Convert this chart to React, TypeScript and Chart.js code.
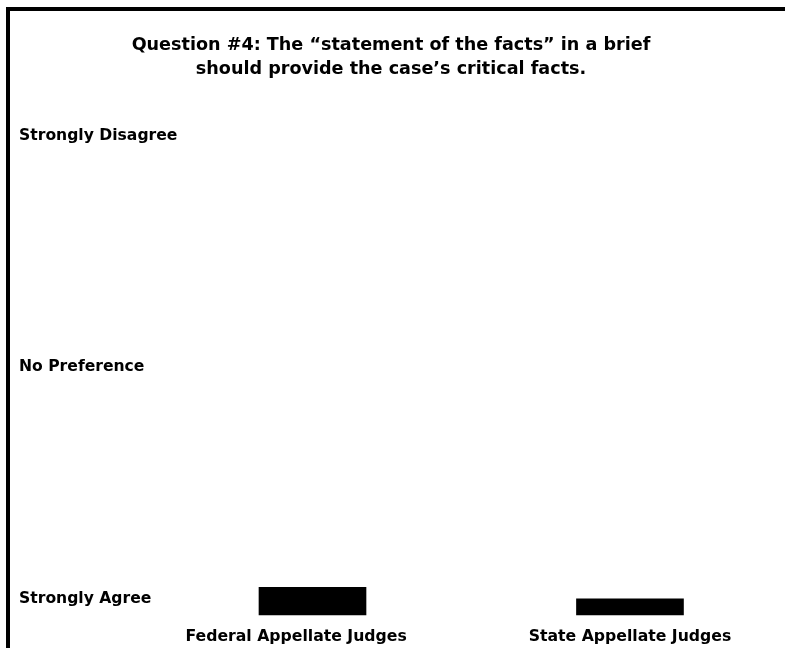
import React, { useEffect, useRef } from "react";
import { Chart, registerables } from "chart.js";

Chart.register(...registerables);

const titleLines = [
  "Question #4: The \u201cstatement of the facts\u201d in a brief",
  "should provide the case\u2019s critical facts.",
];
const categories = ["Federal Appellate Judges      ", "State Appellate Judges"];
const categoryPositions = [0, 1];
const meanResponse = [1.1, 1.0];
const yTickValues = [1, 3, 5];
const yTickLabels = ["Strongly Agree", "No Preference", "Strongly Disagree"];

const FONT = "'DejaVu Sans', Verdana, sans-serif";

export default function App() {
  const ref = useRef<HTMLCanvasElement | null>(null);

  useEffect(() => {
    const canvas = ref.current;
    if (!canvas) return;
    const chart = new Chart(canvas, {
      type: "bar",
      data: {
        datasets: [
          {
            data: categoryPositions.map((x, i) => ({ x, y: meanResponse[i] })),
            backgroundColor: "#000000",
            borderWidth: 0,
            barThickness: 107,
          },
        ],
      },
      options: {
        animation: false,
        responsive: false,
        devicePixelRatio: 1,
        layout: { padding: { left: 9, right: 23, top: 0, bottom: 0 } },
        plugins: {
          legend: { display: false },
          tooltip: { enabled: false },
          title: {
            display: true,
            text: titleLines,
            color: "#000000",
            font: { family: FONT, size: 17.6, weight: "bold", lineHeight: 24 / 17.6 },
            padding: { top: 22.5, bottom: 54.3 },
          },
        },
        scales: {
          x: {
            type: "linear",
            offset: false,
            min: -0.389,
            max: 1.419,
            grid: { display: false, drawTicks: false, offset: false },
            border: { display: false },
            afterBuildTicks: (scale: any) => {
              scale.ticks = categoryPositions.map((v) => ({ value: v }));
            },
            afterFit: (scale: any) => {
              scale.paddingLeft = 0;
              scale.paddingRight = 0;
            },
            ticks: {
              autoSkip: false,
              maxRotation: 0,
              padding: 12,
              color: "#000000",
              font: { family: FONT, size: 15.7, weight: "bold" },
              callback: (value: any) => {
                const i = categoryPositions.indexOf(Number(value));
                return i >= 0 ? categories[i] : "";
              },
            },
          },
          y: {
            type: "linear",
            min: 0.86,
            max: 5,
            grid: { display: false, drawTicks: false },
            border: { display: false },
            afterBuildTicks: (scale: any) => {
              scale.ticks = yTickValues.map((v) => ({ value: v }));
            },
            afterFit: (scale: any) => {
              scale.width = 170;
            },
            ticks: {
              autoSkip: false,
              crossAlign: "far",
              color: "#000000",
              font: { family: FONT, size: 15.6, weight: "bold" },
              callback: (value: any) => {
                const i = yTickValues.indexOf(Number(value));
                return i >= 0 ? yTickLabels[i] : "";
              },
            },
          },
        },
      },
    } as any);
    return () => chart.destroy();
  }, []);

  return (
    <div
      style={{
        position: "fixed",
        left: 6,
        top: 7,
        width: 800,
        height: 670,
        borderLeft: "4px solid #000",
        borderTop: "4px solid #000",
        boxSizing: "border-box",
        background: "#fff",
      }}
    >
      <canvas
        ref={ref}
        width={776}
        height={647}
        style={{ position: "absolute", left: 0, top: 0, width: 776, height: 647 }}
      />
    </div>
  );
}
